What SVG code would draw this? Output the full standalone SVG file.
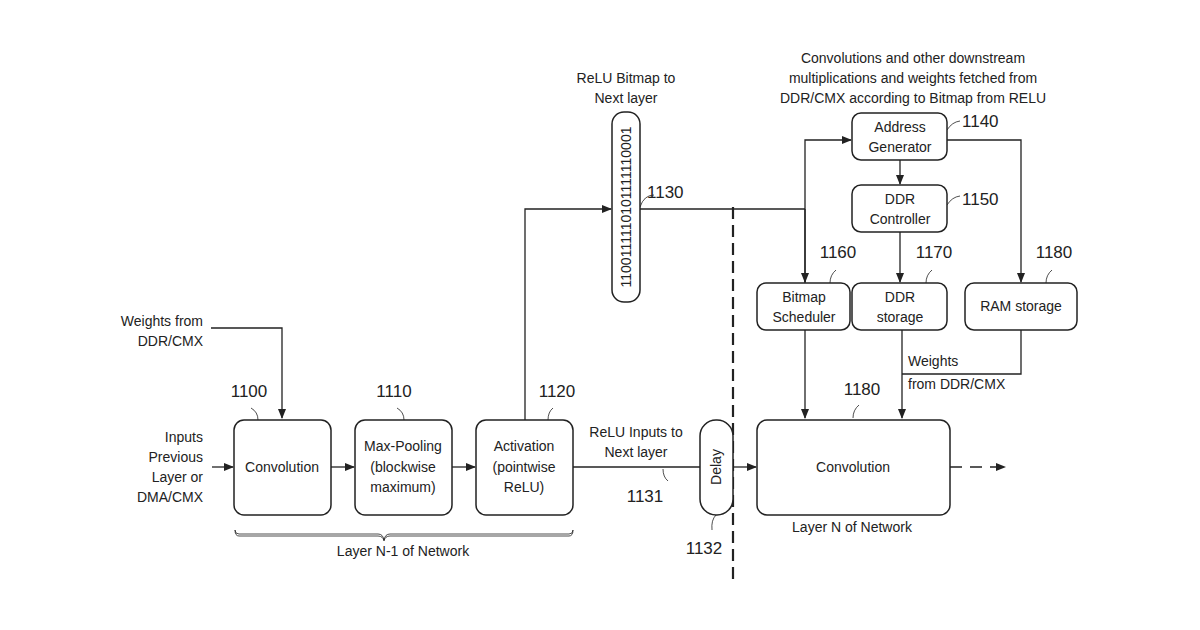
<svg xmlns="http://www.w3.org/2000/svg" width="1200" height="630" viewBox="0 0 1200 630">
<defs>
<marker id="a" markerWidth="10" markerHeight="8" refX="9" refY="4" orient="auto" markerUnits="userSpaceOnUse"><path d="M0,0 L10,4 L0,8 Z" fill="#222"/></marker>
<style>
text{font-family:"Liberation Sans",Arial,sans-serif;font-size:14px;fill:#222}
.n{font-size:17px}
.b{fill:#fff;stroke:#222;stroke-width:1.5}
.l{fill:none;stroke:#222;stroke-width:1.3}
.t{fill:none;stroke:#222;stroke-width:0.8}
.m{text-anchor:middle}
.e{text-anchor:end}
</style>
</defs>
<rect width="1200" height="630" fill="#fff"/>
<g id="connectors">
<path class="l" d="M212,467 H233" marker-end="url(#a)"/>
<path class="l" d="M211,328 H282 V418" marker-end="url(#a)"/>
<path class="l" d="M331,467 H354" marker-end="url(#a)"/>
<path class="l" d="M452,467 H475" marker-end="url(#a)"/>
<path class="l" d="M573,467 H700"/>
<path class="l" d="M733,467 H756" marker-end="url(#a)"/>
<path class="l" d="M525,420 V209 H611" marker-end="url(#a)"/>
<path class="l" d="M640,209 H805"/>
<path class="l" d="M805,285 V140 H851" marker-end="url(#a)"/>
<path class="l" d="M805,209 V282" marker-end="url(#a)"/>
<path class="l" d="M947,140 H1021 V282" marker-end="url(#a)"/>
<path class="l" d="M900,160 V184" marker-end="url(#a)"/>
<path class="l" d="M900,232 V282" marker-end="url(#a)"/>
<path class="l" d="M805,330 V418" marker-end="url(#a)"/>
<path class="l" d="M902,330 V418" marker-end="url(#a)"/>
<path class="l" d="M1021,330 V374 H902"/>
<path class="l" d="M950,467 H1005" stroke-dasharray="12,8" marker-end="url(#a)"/>
<path d="M733,207 V580" fill="none" stroke="#222" stroke-width="2.2" stroke-dasharray="12,6"/>
<path class="t" d="M235,530 q0,4 4,4 H378 q5,0 6,6 q1,-6 6,-6 H569 q4,0 4,-4"/>
<path class="t" d="M235,530 q0,6 4,6 H378 q5,0 6,5 q1,-5 6,-5 H569 q4,0 4,-6"/>
<path class="t" d="M258,420 q0,-8 -7,-12"/>
<path class="t" d="M404,420 q0,-8 -7,-12"/>
<path class="t" d="M548,420 q0,-8 5,-12"/>
<path class="t" d="M640,207 q4,-12 14,-12"/>
<path class="t" d="M947,130 q5,-8 13,-9"/>
<path class="t" d="M947,205 q5,-8 13,-9"/>
<path class="t" d="M830,283 q0,-8 6,-13"/>
<path class="t" d="M926,283 q0,-8 6,-13"/>
<path class="t" d="M1046,283 q0,-8 6,-13"/>
<path class="t" d="M853,418 q0,-8 6,-13"/>
<path class="t" d="M663,469 q0,8 5,12"/>
<path class="t" d="M716,515 q-5,5 -4,15"/>
</g>
<g id="n1100"><rect class="b" x="234" y="420" width="97" height="95" rx="10"/><text class="m" x="282" y="472">Convolution</text><text class="n m" x="249" y="397">1100</text></g>
<g id="n1110"><rect class="b" x="355" y="420" width="97" height="95" rx="10"/><text class="m" x="403" y="451">Max-Pooling</text><text class="m" x="403" y="472">(blockwise</text><text class="m" x="403" y="492">maximum)</text><text class="n m" x="394" y="397">1110</text></g>
<g id="n1120"><rect class="b" x="476" y="420" width="97" height="95" rx="10"/><text class="m" x="524" y="451">Activation</text><text class="m" x="524" y="472">(pointwise</text><text class="m" x="524" y="492">ReLU)</text><text class="n m" x="557" y="397">1120</text></g>
<g id="n1132"><rect class="b" x="700" y="420" width="33" height="95" rx="16"/><text class="m" transform="translate(721,467) rotate(-90)">Delay</text><text class="n m" x="704" y="554">1132</text></g>
<g id="n1130"><rect class="b" x="612" y="112" width="28" height="190" rx="12"/><text class="m" font-size="13" transform="translate(631,207) rotate(-90)">1100111110101111110001</text><text class="n" x="647" y="198">1130</text><text class="m" x="626" y="83">ReLU Bitmap to</text><text class="m" x="626" y="103">Next layer</text></g>
<g id="n1140"><rect class="b" x="852" y="113" width="95" height="47" rx="9"/><text class="m" x="900" y="132">Address</text><text class="m" x="900" y="152">Generator</text><text class="n" x="962" y="127">1140</text></g>
<g id="n1150"><rect class="b" x="852" y="185" width="95" height="47" rx="9"/><text class="m" x="900" y="204">DDR</text><text class="m" x="900" y="224">Controller</text><text class="n" x="962" y="205">1150</text></g>
<g id="n1160"><rect class="b" x="757" y="283" width="93" height="47" rx="9"/><text class="m" x="804" y="302">Bitmap</text><text class="m" x="804" y="322">Scheduler</text><text class="n m" x="838" y="258">1160</text></g>
<g id="n1170"><rect class="b" x="852" y="283" width="95" height="47" rx="9"/><text class="m" x="900" y="302">DDR</text><text class="m" x="900" y="322">storage</text><text class="n m" x="934" y="258">1170</text></g>
<g id="n1180r"><rect class="b" x="965" y="283" width="112" height="47" rx="9"/><text class="m" x="1021" y="311">RAM storage</text><text class="n m" x="1054" y="258">1180</text></g>
<g id="n1180"><rect class="b" x="757" y="420" width="193" height="95" rx="10"/><text class="m" x="853" y="472">Convolution</text><text class="n m" x="862" y="395">1180</text><text class="m" x="852" y="532">Layer N of Network</text></g>
<g id="labels">
<text class="e" x="203" y="442">Inputs</text><text class="e" x="203" y="462">Previous</text><text class="e" x="203" y="482">Layer or</text><text class="e" x="203" y="502">DMA/CMX</text>
<text class="e" x="203" y="326">Weights from</text><text class="e" x="203" y="346">DDR/CMX</text>
<text class="m" x="403" y="556">Layer N-1 of Network</text>
<text class="m" x="636" y="437">ReLU Inputs to</text><text class="m" x="636" y="457">Next layer</text>
<text class="n m" x="645" y="502">1131</text>
<text x="908" y="366">Weights</text><text x="908" y="389">from DDR/CMX</text>
<text class="m" x="913" y="63">Convolutions and other downstream</text>
<text class="m" x="913" y="83">multiplications and weights fetched from</text>
<text class="m" x="913" y="103">DDR/CMX according to Bitmap from RELU</text>
</g>
</svg>
